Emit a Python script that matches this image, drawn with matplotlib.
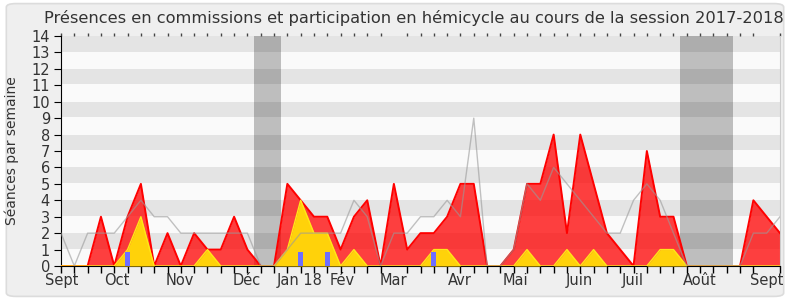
import matplotlib
matplotlib.use("Agg")
import matplotlib.pyplot as plt
from matplotlib.patches import FancyBboxPatch
import numpy as np

# weekly values, session 2017-2018 (week 0 = early Sept 2017)
presences = [0, 0, 0, 3, 0, 3, 5, 0, 2, 0, 2, 1, 1, 3, 1, 0, 0, 5, 4, 3,
             3, 1, 3, 4, 0, 5, 1, 2, 2, 3, 5, 5, 0, 0, 1, 5, 5, 8, 2, 8,
             5, 2, 1, 0, 7, 3, 3, 0, 0, 0, 0, 0, 4, 3, 2]
interventions = [0, 0, 0, 0, 0, 1, 3, 0, 0, 0, 0, 1, 0, 0, 0, 0, 0, 1, 4, 2,
                 2, 0, 1, 0, 0, 0, 0, 0, 1, 1, 0, 0, 0, 0, 0, 1, 0, 0, 1, 0,
                 1, 0, 0, 0, 0, 1, 1, 0, 0, 0, 0, 0, 0, 0, 0]
mediane = [2, 0, 2, 2, 2, 3, 4, 3, 3, 2, 2, 2, 2, 2, 2, 0, 0, 1, 2, 2,
           2, 2, 4, 3, 0, 2, 2, 3, 3, 4, 3, 9, 0, 0, 1, 5, 4, 6, 5, 4,
           3, 2, 2, 4, 5, 4, 2, 0, 0, 0, 0, 0, 2, 2, 3]
questions_weeks = [5, 18, 20, 28]
questions_vals = [0.85, 0.85, 0.85, 0.85]
vacances = [(14.5, 16.5), (46.5, 50.5)]
mois = ["Sept", "Oct", "Nov", "Déc", "Jan 18", "Fév", "Mar", "Avr",
        "Mai", "Juin", "Juil", "Août", "Sept"]
mois_pos = [0.03, 4.16, 8.92, 13.95, 17.9, 21.1, 25.0, 29.95,
            34.16, 38.95, 42.95, 47.99, 53.0]

weeks = np.arange(len(presences))

fig = plt.figure(figsize=(7.9, 3.0), dpi=100)
fig.patch.set_facecolor("white")
bg = FancyBboxPatch((0.008, 0.012), 0.984, 0.976, boxstyle="round,pad=0,rounding_size=0.012",
                    transform=fig.transFigure, facecolor="#efefef", edgecolor="#dcdcdc",
                    linewidth=1.2, zorder=-10)
fig.patches.append(bg)

ax = fig.add_axes([61 / 790, 34 / 300, 719 / 790, 230 / 300])
ax.set_facecolor("#fafafa")
ax.set_xlim(0, 54)
ax.set_ylim(0, 14)

for a, b in vacances:
    ax.axvspan(a, b, color="#bebebe", lw=0, zorder=0.5)
for k in range(1, 14, 2):
    ax.axhspan(k + 0.05, k + 1, color="black", alpha=0.085, lw=0, zorder=0.6)

ax.fill_between(weeks, presences, color="#ff0000", alpha=0.75, lw=0, zorder=2)
ax.plot(weeks, presences, color="#ff0000", lw=1.4, zorder=3)
ax.fill_between(weeks, interventions, color="#ffd20a", lw=0, zorder=4)
ax.plot(weeks, interventions, color="#ffe817", lw=1, zorder=4.5)
ax.bar(questions_weeks, questions_vals, width=0.4, color="#6e6eff", zorder=5)
ax.plot(weeks, mediane, color="#9a9a9a", lw=1, alpha=0.6, zorder=6)

ax.set_yticks(range(0, 15))
ax.set_xticks(mois_pos)
ax.set_xticklabels(mois, fontsize=10.5)
ax.set_xticks(weeks, minor=True)
ax.tick_params(axis="x", which="major", length=0, pad=5, colors="#333333")
ax.tick_params(axis="x", which="minor", length=5, width=1, color="black", top=True)
ax.tick_params(axis="y", length=5, labelsize=10.5, pad=3, colors="#333333")
ax.tick_params(axis="y", color="black")
for t in ax.xaxis.get_minor_ticks():
    t.tick2line.set_markersize(2)
    t.tick2line.set_markeredgecolor("#444444")

ax.spines["top"].set_visible(False)
ax.spines["right"].set_color("#cccccc")
ax.spines["left"].set_color("black")
ax.spines["bottom"].set_color("black")

ax.set_ylabel("Séances par semaine", fontsize=10, color="#333333")
ax.yaxis.set_label_coords(-0.059, 0.5)
fig.text(414 / 790, 0.94, "Présences en commissions et participation en hémicycle au cours de la session 2017-2018",
         ha="center", va="center", fontsize=11.7, color="#333333")

fig.savefig("out.png", dpi=100, facecolor=fig.get_facecolor())
